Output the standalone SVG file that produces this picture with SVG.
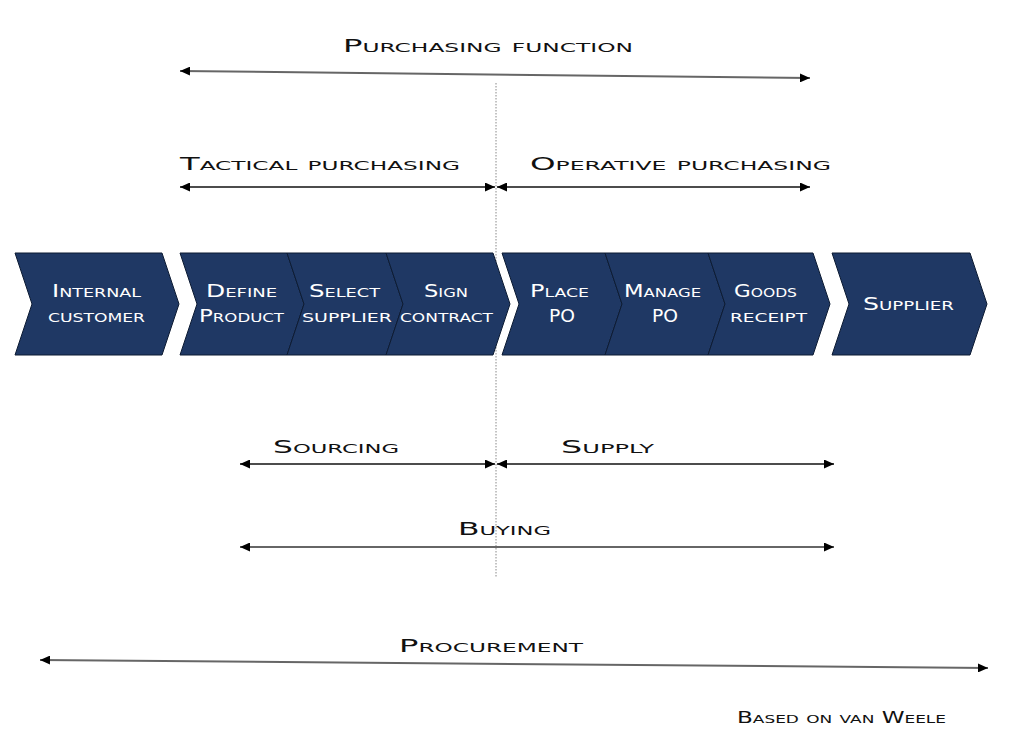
<svg xmlns="http://www.w3.org/2000/svg" width="1024" height="739" viewBox="0 0 1024 739">
<style>
.chev{fill:#1f3864;stroke:#0d1b33;stroke-width:1}
.t{font-family:"DejaVu Sans","Liberation Sans",sans-serif;font-variant:small-caps;font-size:18px;fill:#111}
.w{fill:#ffffff}
.a{stroke:#111;stroke-width:1.3;fill:none;marker-start:url(#ah);marker-end:url(#ah)}
.g{stroke:#666;stroke-width:2}
</style>
<defs>
<marker id="ah" viewBox="0 0 10 9" refX="10" refY="4.5" markerWidth="10" markerHeight="9" markerUnits="userSpaceOnUse" orient="auto-start-reverse">
<path d="M0,0 L10,4.5 L0,9 z" fill="#000"/>
</marker>
</defs>
<rect width="1024" height="739" fill="#ffffff"/>

<line x1="496" y1="83" x2="496" y2="577" stroke="#888" stroke-width="1" stroke-dasharray="1.5,1.5"/>

<g id="connectors">
<line class="a g" x1="180" y1="71" x2="810" y2="78"/>
<line class="a" x1="180" y1="187" x2="495" y2="187"/>
<line class="a" x1="497" y1="187" x2="810" y2="187"/>
<line class="a" x1="240" y1="464" x2="495" y2="464"/>
<line class="a" x1="497" y1="464" x2="834" y2="464"/>
<line class="a g" x1="240" y1="547" x2="834" y2="547"/>
<line class="a g" x1="40" y1="660" x2="988" y2="668"/>
</g>

<g id="labels">
<text class="t" x="343" y="52" textLength="290" lengthAdjust="spacingAndGlyphs">Purchasing function</text>
<text class="t" x="180" y="170" textLength="280" lengthAdjust="spacingAndGlyphs">Tactical purchasing</text>
<text class="t" x="530" y="170" textLength="301" lengthAdjust="spacingAndGlyphs">Operative purchasing</text>
<text class="t" x="273" y="453" textLength="126" lengthAdjust="spacingAndGlyphs">Sourcing</text>
<text class="t" x="561" y="453" textLength="93" lengthAdjust="spacingAndGlyphs">Supply</text>
<text class="t" x="458" y="535" textLength="93" lengthAdjust="spacingAndGlyphs">Buying</text>
<text class="t" x="399" y="652" textLength="184" lengthAdjust="spacingAndGlyphs">Procurement</text>
<text class="t" x="737" y="723" style="font-size:15px" textLength="209" lengthAdjust="spacingAndGlyphs">Based on van Weele</text>
</g>

<g id="internal-customer">
<polygon class="chev" points="15,253 162,253 179,304 162,355 15,355 32,304"/>
<text class="t w" x="52" y="297" textLength="89" lengthAdjust="spacingAndGlyphs">Internal</text>
<text class="t w" x="48" y="322" textLength="97" lengthAdjust="spacingAndGlyphs">customer</text>
</g>
<g id="define-product">
<polygon class="chev" points="180,253 287,253 304,304 287,355 180,355 197,304"/>
<text class="t w" x="206" y="297" textLength="71" lengthAdjust="spacingAndGlyphs">Define</text>
<text class="t w" x="199" y="322" textLength="85" lengthAdjust="spacingAndGlyphs">Product</text>
</g>
<g id="select-supplier">
<polygon class="chev" points="287,253 386,253 403,304 386,355 287,355 304,304"/>
<text class="t w" x="309" y="297" textLength="71" lengthAdjust="spacingAndGlyphs">Select</text>
<text class="t w" x="302" y="322" textLength="90" lengthAdjust="spacingAndGlyphs">supplier</text>
</g>
<g id="sign-contract">
<polygon class="chev" points="386,253 493,253 510,304 493,355 386,355 403,304"/>
<text class="t w" x="424" y="297" textLength="44" lengthAdjust="spacingAndGlyphs">Sign</text>
<text class="t w" x="400" y="322" textLength="93" lengthAdjust="spacingAndGlyphs">contract</text>
</g>
<g id="place-po">
<polygon class="chev" points="502,253 605,253 622,304 605,355 502,355 519,304"/>
<text class="t w" x="530" y="297" textLength="59" lengthAdjust="spacingAndGlyphs">Place</text>
<text class="t w" x="549" y="322" textLength="26" lengthAdjust="spacingAndGlyphs">PO</text>
</g>
<g id="manage-po">
<polygon class="chev" points="605,253 708,253 725,304 708,355 605,355 622,304"/>
<text class="t w" x="624" y="297" textLength="77" lengthAdjust="spacingAndGlyphs">Manage</text>
<text class="t w" x="652" y="322" textLength="26" lengthAdjust="spacingAndGlyphs">PO</text>
</g>
<g id="goods-receipt">
<polygon class="chev" points="708,253 813,253 830,304 813,355 708,355 725,304"/>
<text class="t w" x="734" y="297" textLength="63" lengthAdjust="spacingAndGlyphs">Goods</text>
<text class="t w" x="730" y="322" textLength="77" lengthAdjust="spacingAndGlyphs">receipt</text>
</g>
<g id="supplier">
<polygon class="chev" points="832,253 970,253 987,304 970,355 832,355 849,304"/>
<text class="t w" x="863" y="310" textLength="91" lengthAdjust="spacingAndGlyphs">Supplier</text>
</g>
</svg>
